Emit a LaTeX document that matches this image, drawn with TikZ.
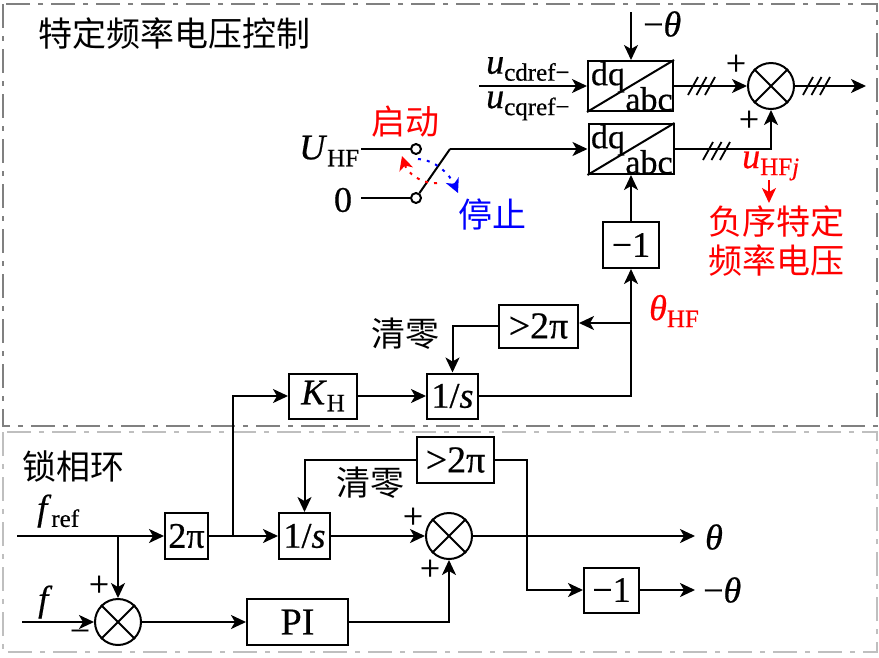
\documentclass[tikz,border=0pt]{standalone}
\usepackage{fontspec}
\setmainfont{Liberation Serif}[FakeBold=0.5]
\newfontfamily\cjk{Noto Sans CJK SC}
\usetikzlibrary{arrows.meta}
\newcommand{\sbs}[1]{\raisebox{-7pt}{\fontsize{25}{25}\selectfont #1}}
\tikzset{
  x=1pt,y=-1pt,
  wire/.style={line width=2pt,line join=miter},
  arr/.style={wire,-{Stealth[length=15pt,width=14pt,inset=4pt]}},
  txt/.style={inner sep=0pt,font=\fontsize{36}{36}\selectfont},
  dqt/.style={inner sep=0pt,font=\fontsize{34}{34}\selectfont},
  cn/.style={inner sep=0pt,font=\cjk\fontsize{34}{39}\selectfont,align=center},
  blockbox/.style={draw,line width=2pt,inner sep=0pt,font=\fontsize{36}{36}\selectfont},
  sumc/.style={draw,circle,line width=2pt,minimum size=46pt,inner sep=0pt},
  slash/.style={line width=1.8pt},
  dotarc/.style={line width=2pt,dash pattern=on 3pt off 6pt,-{Stealth[length=14pt,width=14pt,inset=4pt]}},
  frameA/.style={line width=2pt,draw=black!50,dash pattern=on 24pt off 8pt on 5pt off 8pt},
  frameB/.style={line width=2pt,draw=black!25,dash pattern=on 24pt off 8pt on 5pt off 8pt},
}
\begin{document}
\begin{tikzpicture}
\useasboundingbox (0,0) rectangle (879,657);
\draw[frameA] (3,4) rectangle (877,426);
\draw[frameB] (3,432) rectangle (877,652);
% blocks
\node[blockbox,minimum width=85pt,minimum height=50pt] (dq1) at (630.5,86) {};
\node[blockbox,minimum width=85pt,minimum height=50pt] (dq2) at (631,149) {};
\foreach \b in {dq1,dq2}{
  \draw[line width=2pt] (\b.south west) -- (\b.north east);
}
\node[dqt] (dq1a) at (608,77) {dq};
\node[dqt] (dq1b) at (649,99) {abc};
\node[dqt] (dq2a) at (608,140) {dq};
\node[dqt] (dq2b) at (649,162) {abc};
\node[blockbox,minimum width=56pt,minimum height=46pt] (neg1) at (631,245) {−1};
\node[blockbox,minimum width=79pt,minimum height=43pt,font=\fontsize{38}{38}\selectfont] (gtA) at (538.5,326) {>2π};
\node[blockbox,minimum width=68pt,minimum height=45pt] (kh) at (323,396) {\textit{K}\sbs{H}};
\node[blockbox,minimum width=51pt,minimum height=45pt] (intA) at (452.5,396) {1/\textit{s}};
\node[blockbox,minimum width=77pt,minimum height=46pt,font=\fontsize{38}{38}\selectfont] (gtB) at (455.5,460) {>2π};
\node[blockbox,minimum width=43pt,minimum height=46pt] (twopi) at (186.5,536) {2π};
\node[blockbox,minimum width=51pt,minimum height=46pt] (intB) at (304.5,536) {1/\textit{s}};
\node[blockbox,minimum width=55pt,minimum height=45pt] (neg2) at (611.5,590) {−1};
\node[blockbox,minimum width=101pt,minimum height=46pt,font=\fontsize{38}{38}\selectfont] (pi) at (297.5,622) {PI};
\node[sumc] (s1) at (771,86) {};
\node[sumc] (s2) at (449,536) {};
\node[sumc] (s3) at (118,622) {};
\foreach \s in {s1,s2,s3}{
  \draw[line width=2pt] (\s.45) -- (\s.225);
  \draw[line width=2pt] (\s.135) -- (\s.315);
}
% switch
\node[draw,circle,line width=2pt,minimum size=10pt,inner sep=0pt] (c1) at (416,149) {};
\node[draw,circle,line width=2pt,minimum size=10pt,inner sep=0pt] (c2) at (416,198) {};
\coordinate (cUin) at (361,149);
\coordinate (c0in) at (361,198);
\coordinate (elbow) at (450,149);
\draw[wire] (cUin) -- (c1);
\draw[wire] (c0in) -- (c2);
\draw[wire] (c2) -- (elbow);
\draw[arr] (elbow) -- (dq2.west);
% dotted arcs
\coordinate (ra) at (437,183);
\coordinate (rb) at (402,156);
\coordinate (ba) at (418,159);
\coordinate (bb) at (458,193);
\draw[dotarc,red] (ra) .. controls (420,184) and (407,172) .. (rb);
\draw[dotarc,blue] (ba) .. controls (436,160) and (450,175) .. (bb);
% top inputs
\coordinate (thIn) at (631,12);
\coordinate (udIn) at (479,86);
\draw[arr] (thIn) -- (dq1.north -| thIn);
\draw[arr] (udIn) -- (dq1.west);
\draw[arr] (neg1.north) -- (dq2.south);
\draw[arr] (dq1.east) -- (s1.west);
\draw[arr] (dq2.east) -| (s1.south);
\coordinate (outA) at (866,86);
\draw[arr] (s1.east) -- (outA);
% triple slashes
\foreach \x in {688,696.5,705}{\draw[slash] (\x,95) -- (\x+10,77);}
\foreach \x in {803,811.5,820}{\draw[slash] (\x,95) -- (\x+10,77);}
\foreach \x in {703,711.5,720}{\draw[slash] (\x,160) -- (\x+10,142);}
% integrator A
\coordinate (jA) at (632,323);
\draw[arr] (kh.east) -- (intA.west);
\draw[arr] (intA.east) -| (neg1.south);
\draw[arr] (jA) -- (jA -| gtA.east);
\draw[arr] (gtA.west) -| (intA.north);
% bottom row
\coordinate (frefIn) at (17,536);
\coordinate (fIn) at (22,622);
\coordinate (jB) at (233,536);
\coordinate (jC) at (118,536);
\coordinate (thOut) at (695,536);
\coordinate (negOut) at (695,590);
\coordinate (jD) at (527,536);
\draw[arr] (frefIn) -- (twopi.west);
\draw[arr] (jC) -- (s3.north);
\draw[arr] (fIn) -- (s3.west);
\draw[arr] (s3.east) -- (pi.west);
\draw[arr] (pi.east) -| (s2.south);
\draw[arr] (twopi.east) -- (intB.west);
\draw[arr] (jB) |- (kh.west);
\draw[arr] (intB.east) -- (s2.west);
\draw[arr] (s2.east) -- (thOut);
\draw[arr] (gtB.west) -| (intB.north);
\draw[wire] (gtB.east) -| (jD);
\draw[arr] (jD) |- (neg2.west);
\draw[arr] (neg2.east) -- (negOut);
% red arrow
\coordinate (rA1) at (769,180);
\coordinate (rA2) at (769,203);
\draw[arr,red] (rA1) -- (rA2);
% texts
\node[cn,anchor=west] (t1) at (38,34) {特定频率电压控制};
\node[cn,red] (t2) at (405.5,122) {启动};
\node[cn,blue] (t3) at (492,214) {停止};
\node[cn] (t4) at (405.5,334) {清零};
\node[cn] (t5) at (370.5,483) {清零};
\node[cn,anchor=west] (t6) at (22,466) {锁相环};
\node[cn,red] (t7) at (776.5,241) {负序特定\\频率电压};
\node[txt,anchor=west] (l1) at (299,151) {\textit{U}\sbs{HF}};
\node[txt] (l2) at (343,200) {0};
\node[txt,anchor=west] (l3) at (486,69) {\textit{u}\sbs{cdref−}};
\node[txt,anchor=west] (l4) at (486,106) {\textit{u}\sbs{cqref−}};
\node[txt,anchor=west] (l5) at (643,24) {−\textit{θ}};
\node[txt,anchor=west,red] (l6) at (649,311) {\textit{θ}\sbs{HF}};
\node[txt,anchor=west,red] (l7) at (742,166) {\textit{u}\sbs{HF\textit{j}}};
\node[txt,anchor=west] (l8) at (37,511) {\textit{f}\sbs{ref}};
\node[txt,anchor=west] (l9) at (38,602) {\textit{f}};
\node[txt] (l10) at (714,537) {\textit{θ}};
\node[txt,anchor=west] (l11) at (703,590) {−\textit{θ}};
\node[txt] (p1) at (736,65) {+};
\node[txt] (p2) at (749,121) {+};
\node[txt] (p3) at (99,586) {+};
\node[txt] (p4) at (80,636) {−};
\node[txt] (p5) at (413,518) {+};
\node[txt] (p6) at (430,570) {+};
\end{tikzpicture}
\end{document}
